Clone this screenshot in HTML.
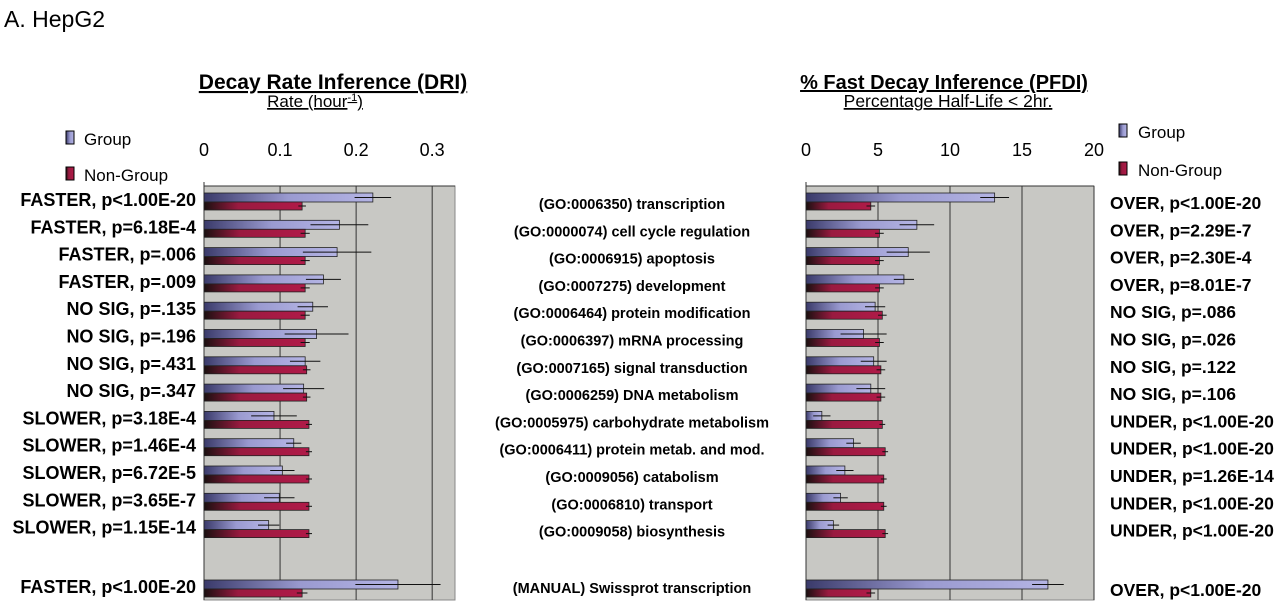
<!DOCTYPE html>
<html><head><meta charset="utf-8"><style>
body{margin:0;background:#fff;width:1280px;height:607px;overflow:hidden;font-family:"Liberation Sans",sans-serif}
</style></head><body>
<svg id="c" width="1280" height="607" xmlns="http://www.w3.org/2000/svg">
<defs>
<linearGradient id="gg" x1="0" x2="1" y1="0" y2="0"><stop offset="0" stop-color="#3a3a6a"/><stop offset="0.5" stop-color="#9a9ad0"/><stop offset="1" stop-color="#b4b4e4"/></linearGradient>
<linearGradient id="ng" x1="0" x2="1" y1="0" y2="0"><stop offset="0" stop-color="#1a1010"/><stop offset="0.35" stop-color="#9a1a40"/><stop offset="1" stop-color="#b01a48"/></linearGradient>
</defs>
<text x="4" y="27" font-size="23">A. HepG2</text>
<text x="333" y="89" font-size="21" font-weight="bold" text-anchor="middle" text-decoration="underline">Decay Rate Inference (DRI)</text>
<text x="315" y="107" font-size="17" text-anchor="middle" text-decoration="underline">Rate (hour<tspan font-size="11" dy="-6">-1</tspan><tspan dy="6">)</tspan></text>
<text x="944" y="89" font-size="20" font-weight="bold" text-anchor="middle" text-decoration="underline">% Fast Decay Inference (PFDI)</text>
<text x="948" y="107" font-size="17.5" text-anchor="middle" text-decoration="underline">Percentage Half-Life &lt; 2hr.</text>
<g>
<rect x="66" y="131" width="8" height="13" fill="url(#gg)" stroke="#000"/><text x="84" y="145" font-size="17">Group</text>
<rect x="66" y="167" width="8" height="13" fill="url(#ng)" stroke="#000"/><text x="84" y="181" font-size="17">Non-Group</text>
</g>
<g>
<rect x="1119" y="124" width="8" height="13" fill="url(#gg)" stroke="#000"/><text x="1138" y="138" font-size="17">Group</text>
<rect x="1119" y="162" width="8" height="13" fill="url(#ng)" stroke="#000"/><text x="1138" y="176" font-size="17">Non-Group</text>
</g>
<g id="g"></g>
</svg>
<script>
const cats=["(GO:0006350) transcription","(GO:0000074) cell cycle regulation","(GO:0006915) apoptosis","(GO:0007275) development","(GO:0006464) protein modification","(GO:0006397) mRNA processing","(GO:0007165) signal transduction","(GO:0006259) DNA metabolism","(GO:0005975) carbohydrate metabolism","(GO:0006411) protein metab. and mod.","(GO:0009056) catabolism","(GO:0006810) transport","(GO:0009058) biosynthesis","(MANUAL) Swissprot transcription"];
const driLabels=["FASTER, p<1.00E-20","FASTER, p=6.18E-4","FASTER, p=.006","FASTER, p=.009","NO SIG, p=.135","NO SIG, p=.196","NO SIG, p=.431","NO SIG, p=.347","SLOWER, p=3.18E-4","SLOWER, p=1.46E-4","SLOWER, p=6.72E-5","SLOWER, p=3.65E-7","SLOWER, p=1.15E-14","FASTER, p<1.00E-20"];
const pfdiLabels=["OVER, p<1.00E-20","OVER, p=2.29E-7","OVER, p=2.30E-4","OVER, p=8.01E-7","NO SIG, p=.086","NO SIG, p=.026","NO SIG, p=.122","NO SIG, p=.106","UNDER, p<1.00E-20","UNDER, p<1.00E-20","UNDER, p=1.26E-14","UNDER, p<1.00E-20","UNDER, p<1.00E-20","OVER, p<1.00E-20"];
const driGroup=[0.222,0.178,0.175,0.157,0.143,0.148,0.133,0.131,0.092,0.118,0.103,0.099,0.085,0.255];
const driGroupErr=[0.024,0.038,0.045,0.023,0.02,0.042,0.02,0.027,0.03,0.01,0.016,0.02,0.014,0.056];
const driNon=[0.129,0.133,0.133,0.133,0.133,0.133,0.135,0.135,0.138,0.138,0.138,0.138,0.138,0.129];
const driNonErr=[0.005,0.006,0.006,0.006,0.006,0.006,0.005,0.005,0.004,0.004,0.004,0.004,0.004,0.007];
const pfdiGroup=[13.1,7.7,7.1,6.8,4.8,4.0,4.7,4.5,1.1,3.3,2.7,2.4,1.9,16.8];
const pfdiGroupErr=[1.0,1.2,1.5,0.7,0.7,1.6,0.9,1.0,0.6,0.5,0.6,0.5,0.4,1.1];
const pfdiNon=[4.5,5.1,5.1,5.1,5.3,5.1,5.2,5.2,5.3,5.5,5.4,5.4,5.5,4.5];
const pfdiNonErr=[0.3,0.3,0.3,0.3,0.3,0.3,0.3,0.3,0.2,0.2,0.2,0.2,0.2,0.3];
const driTicks=[0,0.1,0.2,0.3];
const pfdiTicks=[0,5,10,15,20];
const NS="http://www.w3.org/2000/svg",G=document.getElementById('g');
function mk(t,a,p){const e=document.createElementNS(NS,t);for(const k in a)e.setAttribute(k,a[k]);(p||G).appendChild(e);return e;}
function rowY(i){return i<13?200+i*27.3:587;}
function panel(x0,x1,max,ticks,grp,ge,non,ne,name){
  const sx=v=>x0+(x1-x0)*v/max;
  const bg=mk('rect',{x:x0,y:186,width:x1-x0,height:414,fill:'#c8c8c4',stroke:'#888'});
  
  
  ticks.forEach(t=>{
    if(t>0){const l=mk('line',{x1:sx(t),x2:sx(t),y1:186,y2:600,stroke:'#333'});
      
      }
    const tx=mk('text',{x:sx(t),y:156,'font-size':18,'text-anchor':'middle'});
    tx.textContent=t;
    
    
  });
  mk('line',{x1:x0,x2:x0,y1:182,y2:600,stroke:'#333'});
  mk('line',{x1:x0,x2:x1,y1:186,y2:186,stroke:'#333'});
  grp.forEach((v,i)=>{
    const y=rowY(i);
    const b=mk('rect',{x:x0,y:y-7,width:sx(v)-x0,height:9,fill:'url(#gg)',stroke:'#222','stroke-width':0.8});
    
    
    mk('line',{x1:sx(v-ge[i]),x2:sx(v+ge[i]),y1:y-2.5,y2:y-2.5,stroke:'#111'});
    const n=mk('rect',{x:x0,y:y+2,width:sx(non[i])-x0,height:8,fill:'url(#ng)',stroke:'#222','stroke-width':0.8});
    
    
    mk('line',{x1:sx(non[i]-ne[i]),x2:sx(non[i]+ne[i]),y1:y+6,y2:y+6,stroke:'#111'});
  });
}
panel(204,455,0.33,driTicks,driGroup,driGroupErr,driNon,driNonErr,'dri');
panel(806,1094,20,pfdiTicks,pfdiGroup,pfdiGroupErr,pfdiNon,pfdiNonErr,'pfdi');
cats.forEach((c,i)=>{
  const y=rowY(i)+6;
  const a=mk('text',{x:196,y:y,'font-size':18,'font-weight':'bold','text-anchor':'end'});a.textContent=driLabels[i];
  
  
  const m=mk('text',{x:632,y:y+(i<13?3:0),'font-size':14.5,'font-weight':'bold','text-anchor':'middle'});m.textContent=cats[i];
  
  
  const r=mk('text',{x:1110,y:y+3,'font-size':17.5,'font-weight':'bold'});r.textContent=pfdiLabels[i];
  
  
});
</script>
</body></html>
